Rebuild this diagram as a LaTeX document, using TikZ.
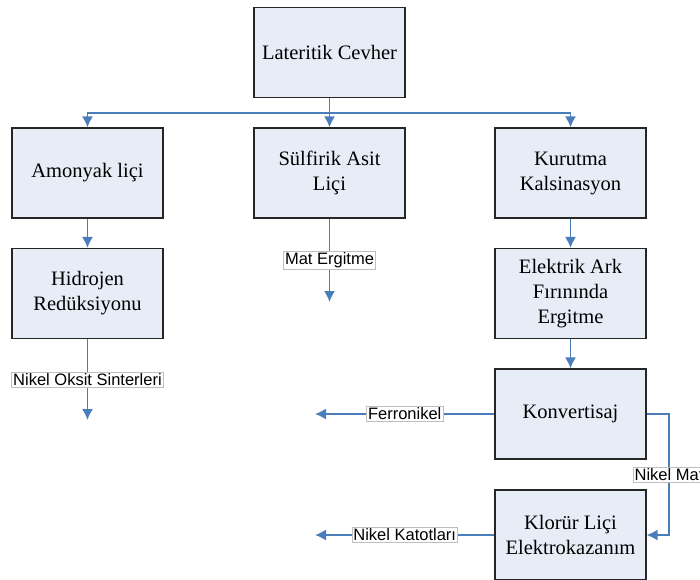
\documentclass[tikz,border=0pt]{standalone}
\usepackage{fontspec}
\setmainfont{Liberation Serif}
\newfontfamily\lblfont{Liberation Sans}
\usepackage{tikz}
\usetikzlibrary{arrows.meta}
\usetikzlibrary{positioning}
\definecolor{boxfill}{HTML}{E7EDF7}
\definecolor{flowblue}{HTML}{4A7EBB}

\begin{document}
\begin{tikzpicture}[x=1pt,y=-1pt,>={Latex[length=11pt,width=11pt]},semithick]
	\tikzstyle{proc}=[draw=black!85, line width=1.2pt, fill=boxfill, minimum width=151pt, minimum height=90pt, align=center, inner sep=2pt, font=\fontsize{20.5}{25}\selectfont]
	\tikzstyle{flow}=[->, draw=flowblue, line width=1.6pt]
	\tikzstyle{lbl}=[fill=white, draw=black!25, line width=0.6pt, inner sep=1.5pt, text=black, font=\lblfont\fontsize{16.5}{18}\selectfont]
	\useasboundingbox (0,0) rectangle (700,579);

	\node[proc] (lat) at (329.5,52.5) {Lateritik Cevher};
	\node[proc] (amo) at (87.5,173) {Amonyak liçi};
	\node[proc] (sul) at (329.5,173) {Sülfirik Asit\\Liçi};
	\node[proc] (kur) at (570.5,173) {Kurutma\\Kalsinasyon};
	\node[proc] (hid) at (87.5,293.5) {Hidrojen\\Redüksiyonu};
	\node[proc] (ele) at (570.5,293.5) {Elektrik Ark\\Fırınında\\Ergitme};
	\node[proc] (kon) at (570.5,414) {Konvertisaj};
	\node[proc] (klo) at (570.5,535) {Klorür Liçi\\Elektrokazanım};

	\coordinate (bus) at (329.5,113);
	\coordinate (matend) at (329.5,302);
	\coordinate (oksend) at (87.5,420);
	\coordinate (ferend) at (315,414);
	\coordinate (katend) at (315,535);
	\coordinate (turn) at (669,414);

	\draw[flow,-] (lat) -- (bus);
	\draw[flow] (bus) -| (amo);
	\draw[flow] (bus) -- (sul);
	\draw[flow] (bus) -| (kur);
	\draw[flow] (amo) -- (hid);
	\draw[flow] (kur) -- (ele);
	\draw[flow] (ele) -- (kon);
	\draw[flow] (sul) -- node[lbl] (mat) {Mat Ergitme} (matend);
	\draw[flow] (hid) -- node[lbl] (oks) {Nikel Oksit Sinterleri} (oksend);
	\draw[flow] (kon) -- node[lbl] (fer) {Ferronikel} (ferend);
	\draw[flow] (klo) -- node[lbl] (kat) {Nikel Katotları} (katend);
	\draw[flow] (kon.east) -- (turn) |- node[lbl,pos=0.25] (nmat) {Nikel Mat} (klo.east);
\end{tikzpicture}
\end{document}
